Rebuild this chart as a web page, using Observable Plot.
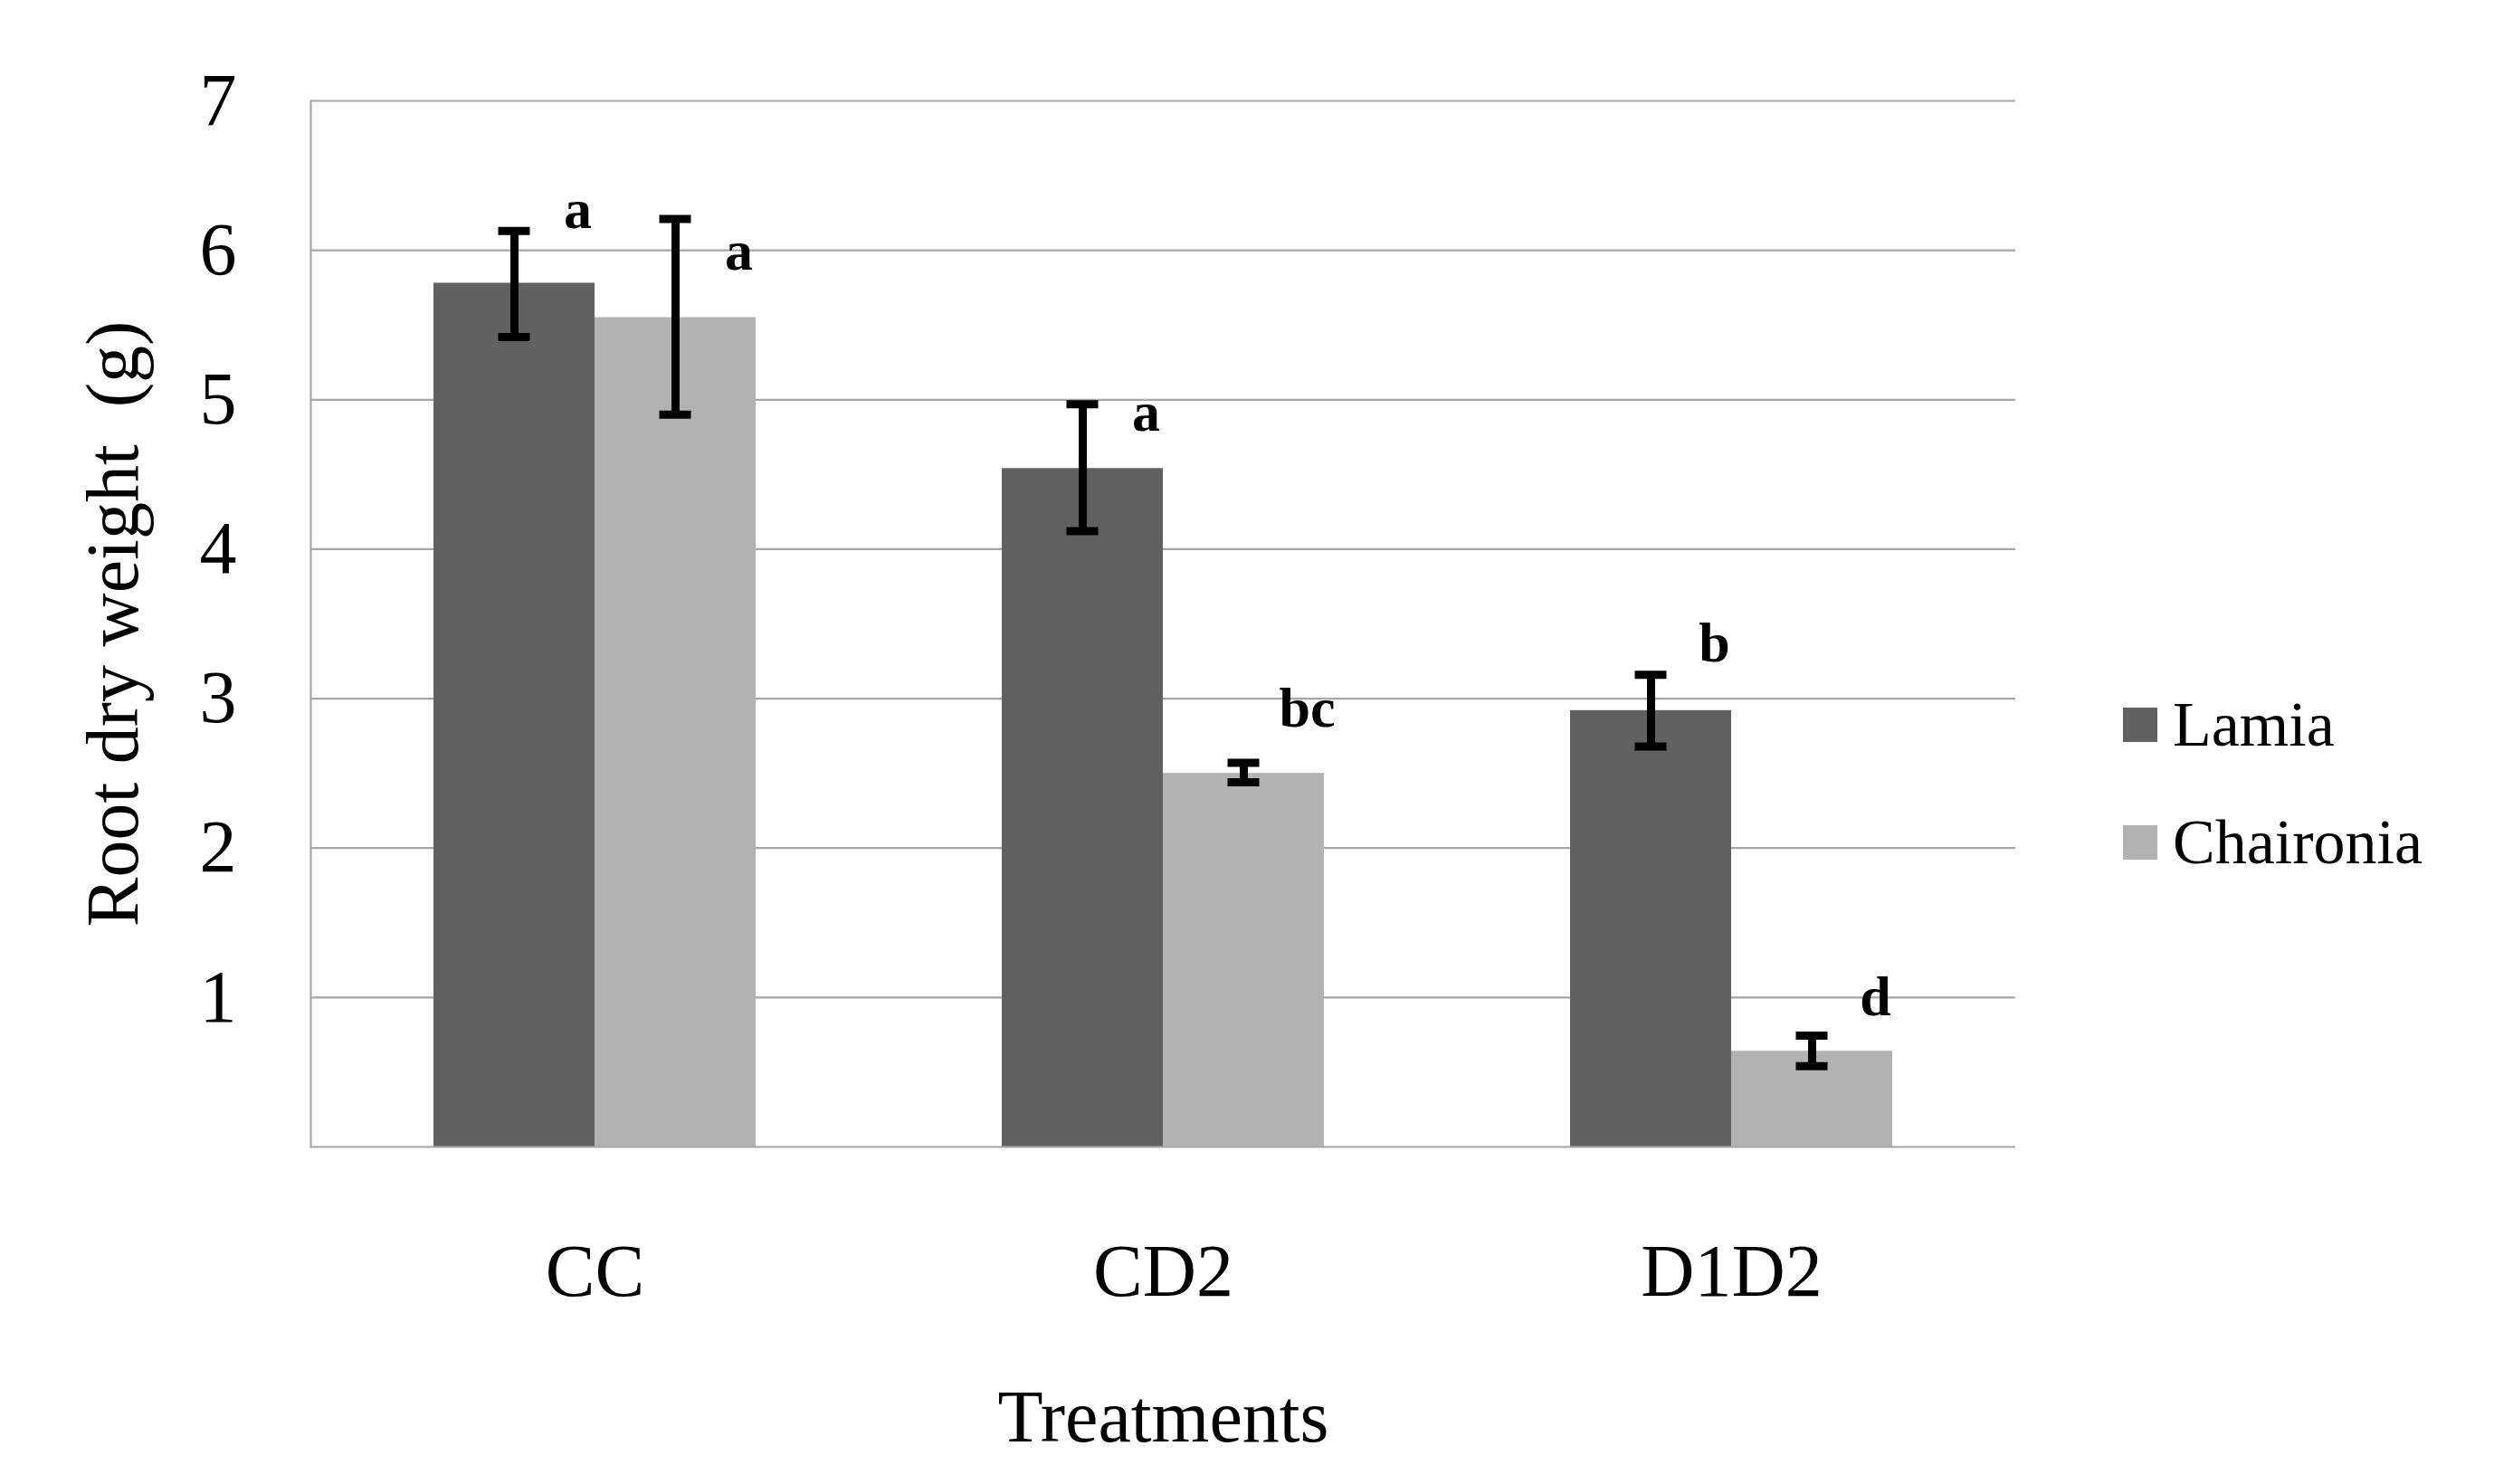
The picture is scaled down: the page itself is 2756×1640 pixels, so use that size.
<!DOCTYPE html>
<html>
<head>
<meta charset="utf-8">
<script src="https://cdn.jsdelivr.net/npm/d3@7"></script>
<script src="https://cdn.jsdelivr.net/npm/@observablehq/plot@0.6"></script>
<style>
  html, body { margin: 0; padding: 0; background: #fff; }
  #wrap { position: relative; width: 2756px; height: 1640px; background: #fff; }
  #legend { position: absolute; left: 2346px; top: 782px; }
  .lg-swatches { font-family: 'Liberation Serif', serif !important; font-size: 70px !important; color: #000 !important; margin: 0 !important; }
  .lg-swatch { display: flex !important; align-items: center !important; margin: 0 0 92px 0 !important; padding: 0 !important; height: 38px; }
  .lg-swatch > svg { margin: 0 17px 0 0 !important; width: 38px !important; height: 38px !important; flex-shrink: 0; }
  .lg-swatch-label, .lg-swatch > div { white-space: nowrap !important; overflow: visible !important; }
</style>
</head>
<body>
<div id="wrap"><div id="chart"></div><div id="legend"></div></div>
<script>
const treatments = ["CC", "CD2", "D1D2"];
const varieties = ["Lamia", "Chaironia"];
const varietyColors = ["#616161", "#b2b2b2"];

const lamiaMean = [5.78, 4.54, 2.92];
const lamiaLow = [5.42, 4.12, 2.68];
const lamiaHigh = [6.13, 4.97, 3.16];
const lamiaLetters = ["a", "a", "b"];
const lamiaLetterY = [6.15, 4.79, 3.25];

const chaironiaMean = [5.55, 2.50, 0.64];
const chaironiaLow = [4.90, 2.44, 0.54];
const chaironiaHigh = [6.21, 2.57, 0.745];
const chaironiaLetters = ["a", "bc", "d"];
const chaironiaLetterY = [5.87, 2.81, 0.88];

const yTicks = [1, 2, 3, 4, 5, 6, 7];

const data = treatments.flatMap((t, i) => [
  {treatment: t, variety: "Lamia", mean: lamiaMean[i], low: lamiaLow[i], high: lamiaHigh[i], letter: lamiaLetters[i], letterY: lamiaLetterY[i]},
  {treatment: t, variety: "Chaironia", mean: chaironiaMean[i], low: chaironiaLow[i], high: chaironiaHigh[i], letter: chaironiaLetters[i], letterY: chaironiaLetterY[i]}
]);

const font = "'Liberation Serif', 'Times New Roman', serif";
const gridColor = "#a6a6a6";

const chart = Plot.plot({
  width: 2756,
  height: 1640,
  marginLeft: 343,
  marginRight: 529,
  marginTop: 111,
  marginBottom: 373,
  style: {fontFamily: font, background: "#fff", color: "#000"},
  fx: {domain: treatments, padding: 0},
  x: {domain: varieties, paddingInner: 0, paddingOuter: 0.764, axis: null},
  y: {domain: [0, 7]},
  color: {domain: varieties, range: varietyColors},
  marks: [
    Plot.ruleY(yTicks, {stroke: gridColor, strokeWidth: 2.2}),
    Plot.barY(data, {fx: "treatment", x: "variety", y: "mean", fill: "variety"}),
    Plot.ruleY([0], {stroke: gridColor, strokeWidth: 2.2}),
    Plot.frame({anchor: "left", facetAnchor: "left", stroke: gridColor, strokeWidth: 2.2}),
    Plot.ruleX(data, {fx: "treatment", x: "variety", y1: "low", y2: "high", stroke: "#000", strokeWidth: 9}),
    Plot.tickY(data, {fx: "treatment", x: "variety", y: "low", stroke: "#000", strokeWidth: 9, insetLeft: 71.5, insetRight: 71.5}),
    Plot.tickY(data, {fx: "treatment", x: "variety", y: "high", stroke: "#000", strokeWidth: 9, insetLeft: 71.5, insetRight: 71.5}),
    Plot.text(data, {fx: "treatment", x: "variety", y: "letterY", text: "letter", dx: 70, lineAnchor: "bottom", fontWeight: "bold", fontSize: 62, fill: "#000"}),
    Plot.axisY({ticks: yTicks, tickFormat: d => String(d), tickSize: 0, tickPadding: 82, fontSize: 82, label: "Root dry weight\u00a0 (g)", labelAnchor: "center", labelOffset: 250, labelArrow: "none"}),
    Plot.axisFx({anchor: "bottom", tickSize: 0, tickPadding: 106, fontSize: 82, label: "Treatments", labelAnchor: "center", labelOffset: 325, labelArrow: "none"})
  ]
});

document.getElementById("chart").appendChild(chart);
const legend = chart.legend("color", {legend: "swatches", columns: 1, swatchSize: 38, className: "lg"});
document.getElementById("legend").appendChild(legend);
</script>
</body>
</html>
